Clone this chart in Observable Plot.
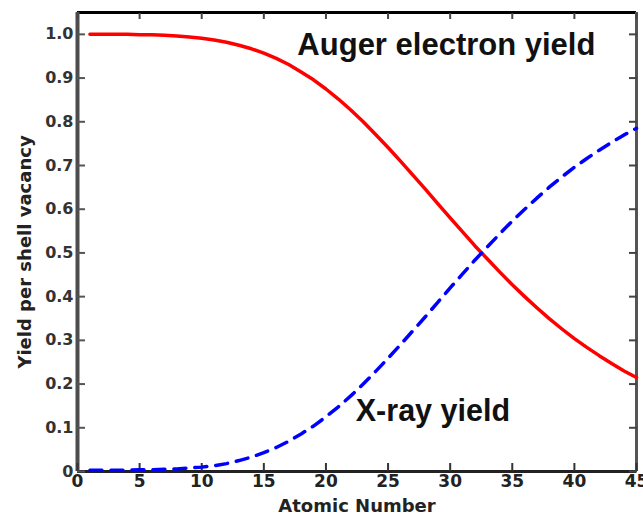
<!DOCTYPE html>
<html><head><meta charset="utf-8">
<script src="https://cdn.jsdelivr.net/npm/d3@7"></script>
<script src="https://cdn.jsdelivr.net/npm/@observablehq/plot@0.6"></script>
<style>body{margin:0;background:#fff}</style>
</head><body><div id="chart"></div>
<script>
const atomicNumber = [1,2,3,4,5,6,7,8,9,10,11,12,13,14,15,16,17,18,19,20,21,22,23,24,25,26,27,28,29,30,31,32,33,34,35,36,37,38,39,40,41,42,43,44,45];
const xrayYield = [0.003,0.003,0.003,0.003,0.004,0.004,0.005,0.006,0.008,0.010,0.013,0.018,0.025,0.033,0.043,0.055,0.069,0.086,0.104,0.125,0.148,0.173,0.200,0.229,0.259,0.290,0.322,0.354,0.387,0.420,0.452,0.484,0.514,0.544,0.573,0.600,0.626,0.651,0.674,0.696,0.716,0.735,0.753,0.770,0.785];
const augerYield = [1.000,1.000,1.000,1.000,0.999,0.999,0.998,0.996,0.994,0.991,0.987,0.982,0.975,0.967,0.957,0.945,0.931,0.914,0.896,0.875,0.852,0.827,0.800,0.771,0.741,0.710,0.678,0.646,0.613,0.580,0.548,0.516,0.486,0.456,0.427,0.400,0.374,0.349,0.326,0.304,0.284,0.265,0.247,0.230,0.215];
const xTicks = [0,5,10,15,20,25,30,35,40,45];
const yTicks = [0,0.1,0.2,0.3,0.4,0.5,0.6,0.7,0.8,0.9,1.0];
const yTickLabels = ["0","0.1","0.2","0.3","0.4","0.5","0.6","0.7","0.8","0.9","1.0"];

const auger = atomicNumber.map((z,i)=>({z, v: augerYield[i]}));
const xray = atomicNumber.map((z,i)=>({z, v: xrayYield[i]}));
const font = "DejaVu Sans";

const chart = Plot.plot({
  width: 643, height: 515,
  marginLeft: 77, marginRight: 7, marginTop: 12, marginBottom: 44,
  style: {fontFamily: font, background: "#fff"},
  x: {domain: [0,45]},
  y: {domain: [0,1.05]},
  marks: [
    Plot.ruleY([0], {stroke:"#222", strokeWidth:3}),
    Plot.ruleY([1.05], {stroke:"#000", strokeWidth:3}),
    Plot.ruleX([0], {stroke:"#4d4d4d", strokeWidth:4}),
    Plot.ruleX([45], {stroke:"#555", strokeWidth:3}),
    Plot.axisX(xTicks, {anchor:"bottom", tickSize:0, tickPadding:3, fontSize:17, fill:"#222", fontWeight:"bold", label:null, tickFormat: d => String(d)}),
    Plot.axisX(xTicks, {anchor:"bottom", tickSize:-8, stroke:"#333", strokeWidth:2, label:null, tickFormat: () => ""}),
    Plot.axisX(xTicks, {anchor:"top", tickSize:-6, stroke:"#444", strokeWidth:2, label:null, tickFormat: () => ""}),
    Plot.axisY(yTicks, {anchor:"left", tickSize:0, tickPadding:4, fontSize:16, fill:"#333", fontWeight:"bold", label:null, tickFormat: d => yTickLabels[yTicks.indexOf(d)]}),
    Plot.axisY(yTicks, {anchor:"left", tickSize:-8, stroke:"#555", strokeWidth:2, label:null, tickFormat: () => ""}),
    Plot.axisY(yTicks, {anchor:"right", tickSize:-8, stroke:"#444", strokeWidth:2, label:null, tickFormat: () => ""}),
    Plot.line(auger, {x:"z", y:"v", stroke:"#ff0000", strokeWidth:3.5}),
    Plot.line(xray, {x:"z", y:"v", stroke:"#0000ff", strokeWidth:3.5, strokeDasharray:"12,9"}),
    Plot.text(["Auger electron yield"], {x: 17.7, y: 0.952, textAnchor:"start", lineAnchor:"bottom", fontSize:31, fontWeight:"bold", fontFamily:"Liberation Sans", fill:"#111"}),
    Plot.text(["X-ray yield"], {x: 22.4, y: 0.116, textAnchor:"start", lineAnchor:"bottom", fontSize:30.5, fontWeight:"bold", fontFamily:"Liberation Sans", fill:"#111"}),
    Plot.text(["Atomic Number"], {frameAnchor:"bottom", textAnchor:"middle", dy: 40, lineAnchor:"bottom", fontSize:18, fontWeight:"bold", fill:"#222"}),
    Plot.text(["Yield per shell vacancy"], {frameAnchor:"left", textAnchor:"middle", dx:-47, dy:10, rotate:-90, lineAnchor:"bottom", fontSize:18, fontWeight:"bold", fill:"#222"})
  ]
});
document.getElementById("chart").appendChild(chart);
</script>
</body></html>
